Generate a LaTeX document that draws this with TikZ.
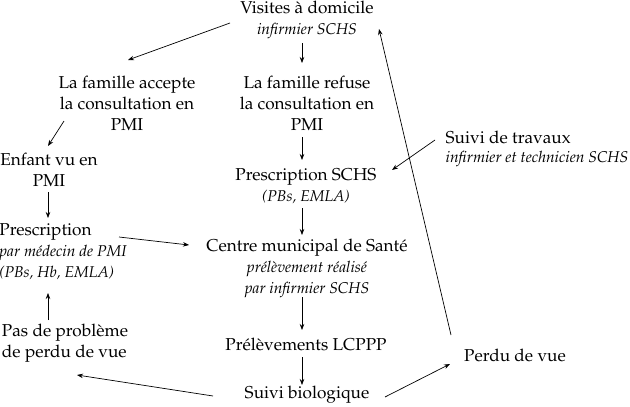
\documentclass[tikz,border=0pt]{standalone}
\usepackage[T1]{fontenc}
\usepackage{mathpazo}
\usetikzlibrary{arrows.meta}
\newcommand\subtxt[1]{{\fontsize{15.6}{20}\selectfont\itshape #1}}
\begin{document}
\begin{tikzpicture}[x=1pt,y=-1pt,
  lbl/.style={inner sep=0pt,font=\fontsize{17.2}{21}\selectfont,align=center},
  lbll/.style={inner sep=0pt,font=\fontsize{17.2}{21}\selectfont,align=left},
  arr/.style={line width=0.7pt,-{Stealth[length=6pt,width=4.5pt]}}]
\useasboundingbox (0,0) rectangle (630,407);
\node[lbl] (vis) at (307,20) {Visites à domicile\\\subtxt{infirmier SCHS}};
\node[lbl] (acc) at (127,103) {La famille accepte\\la consultation en\\PMI};
\node[lbl] (ref) at (307,103) {La famille refuse\\la consultation en\\PMI};
\node[lbl] (enf) at (49,170) {Enfant vu en\\PMI};
\node[lbll] (trav) at (537,149) {Suivi de travaux\\[-2pt]\subtxt{infirmier et technicien SCHS}};
\node[lbl] (pschs) at (306,186) {Prescription SCHS\\\subtxt{(PBs, EMLA)}};
\node[lbll] (presc) at (63,252) {Prescription\\\subtxt{par médecin de PMI}\\\subtxt{(PBs, Hb, EMLA)}};
\node[lbl] (centre) at (307,268) {Centre municipal de Santé\\\subtxt{prélèvement réalisé}\\\subtxt{par infirmier SCHS}};
\node[lbll] (pas) at (65,343) {Pas de problème\\de perdu de vue};
\node[lbl] (prel) at (306,344) {Prélèvements LCPPP};
\node[lbl] (perdu) at (515,355) {Perdu de vue};
\node[lbl] (bio) at (307,395) {Suivi biologique};

\draw[arr] ([shift={(-77,3)}]vis.center) -- ([shift={(1,-43)}]acc.center);
\draw[arr] ([shift={(-5,23)}]vis.center) -- ([shift={(-5,-40)}]ref.center);
\draw[arr] ([shift={(-63,18)}]acc.center) -- ([shift={(-1,-24)}]enf.center);
\draw[arr] ([shift={(-5,34)}]ref.center) -- ([shift={(-4,-26)}]pschs.center);
\draw[arr] ([shift={(-102,-9)}]trav.center) -- ([shift={(86,-16)}]pschs.center);
\draw[arr] ([shift={(-1,22)}]enf.center) -- ([shift={(-15,-34)}]presc.center);
\draw[arr] ([shift={(56,-15)}]presc.center) -- ([shift={(-118,-23)}]centre.center);
\draw[arr] ([shift={(-4,22)}]pschs.center) -- ([shift={(-5,-33)}]centre.center);
\draw[arr] ([shift={(-5,29)}]centre.center) -- ([shift={(-4,-14)}]prel.center);
\draw[arr] ([shift={(-4,13)}]prel.center) -- ([shift={(-5,-10)}]bio.center);
\draw[arr] ([shift={(-17,-23)}]pas.center) -- ([shift={(-15,41)}]presc.center);
\draw[arr] ([shift={(-94,1)}]bio.center) -- ([shift={(12,32)}]pas.center);
\draw[arr] ([shift={(78,2)}]bio.center) -- ([shift={(-65,9)}]perdu.center);
\draw[arr] ([shift={(-64,-20)}]perdu.center) -- ([shift={(72,9)}]vis.center);
\end{tikzpicture}
\end{document}
